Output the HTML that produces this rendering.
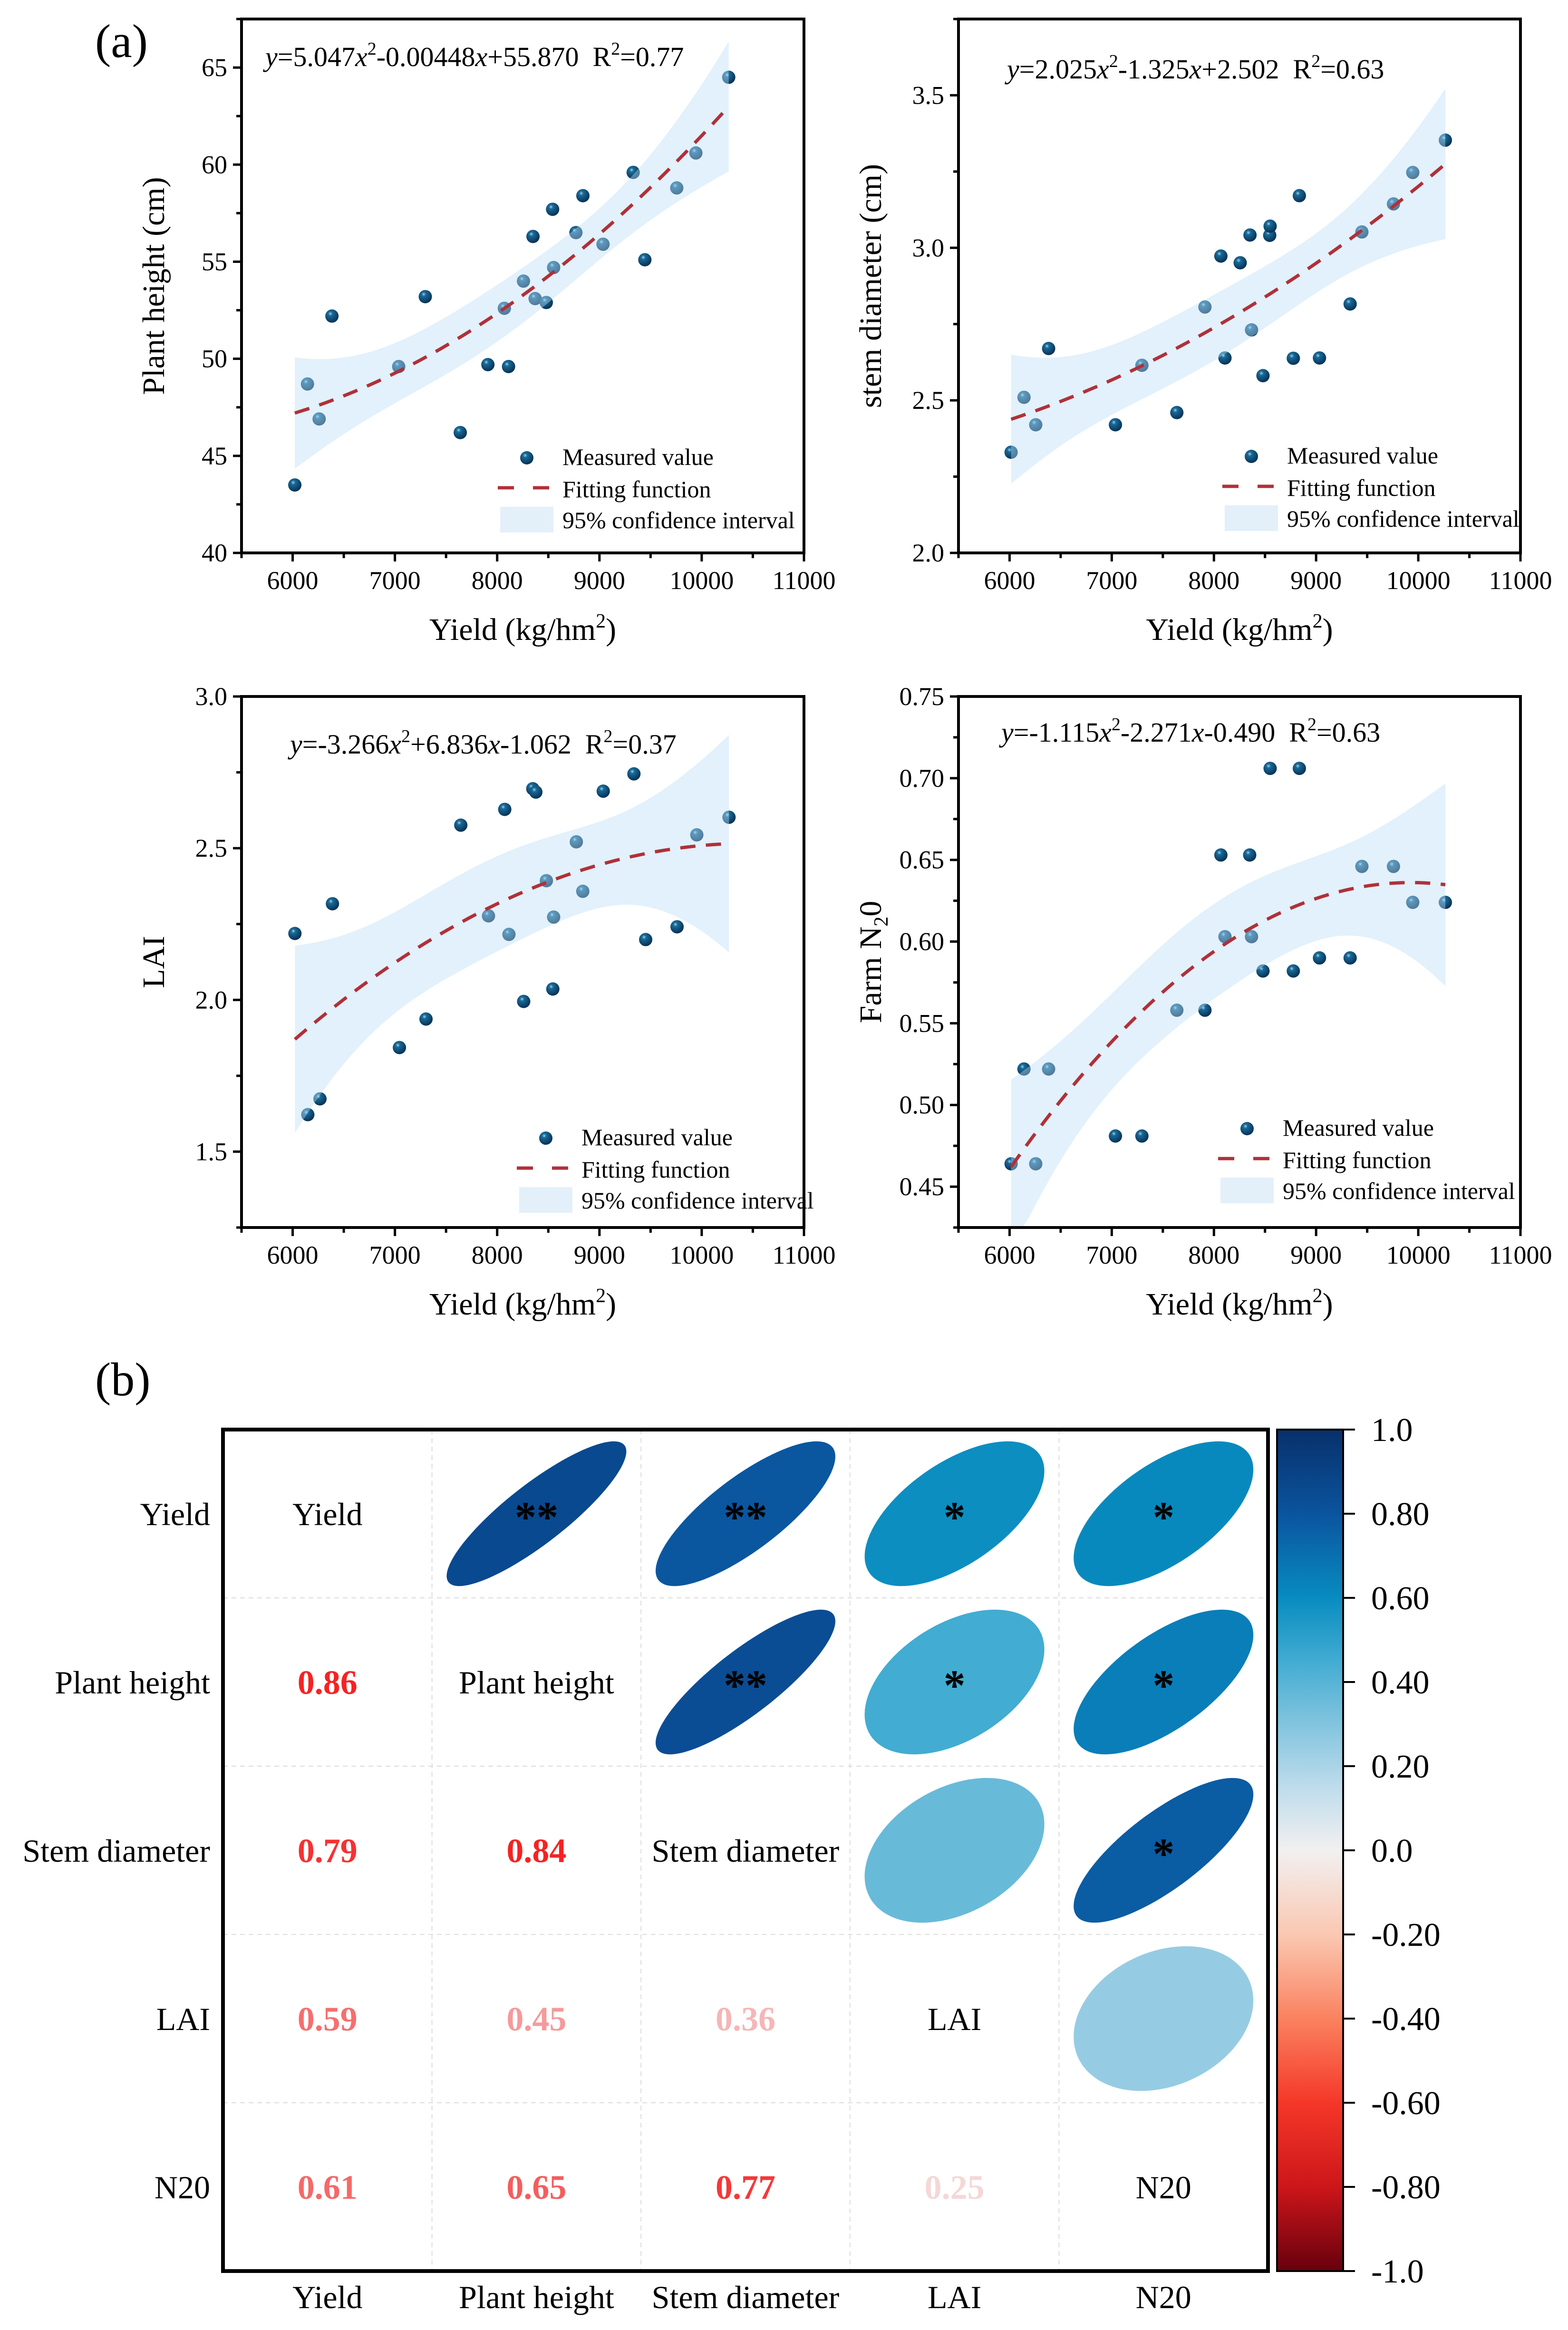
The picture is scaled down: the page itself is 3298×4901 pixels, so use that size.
<!DOCTYPE html>
<html><head><meta charset="utf-8"><style>
html,body{margin:0;padding:0;background:#fff;}
svg{display:block;font-family:"Liberation Serif",serif;}
</style></head><body>
<svg id="root" xmlns="http://www.w3.org/2000/svg" width="3298" height="4901" viewBox="0 0 3298 4901">
<defs>
<radialGradient id="dotGrad" cx="0.38" cy="0.32" r="0.7">
<stop offset="0" stop-color="#9fd4ea"/><stop offset="0.22" stop-color="#1a6a98"/><stop offset="1" stop-color="#062f52"/>
</radialGradient>
<linearGradient id="cbGrad" x1="0" y1="0" x2="0" y2="1"></linearGradient>
</defs>
<text x="200" y="120" font-size="100">(a)</text>
<text x="200" y="2935" font-size="100">(b)</text>
<g id="plots"></g>
<g id="corr"></g>
</svg>
<script>
// ---------- Panel (a) data ----------
const yieldPH = [6021,6145,6259,6384,7037,7297,7639,7909,8070,8111,8257,8350,8371,8480,8542,8552,8770,8838,9035,9330,9444,9756,9943,10264];
const plantHeight = [43.5,48.7,46.9,52.2,49.6,53.2,46.2,49.7,52.6,49.6,54.0,56.3,53.1,52.9,57.7,54.7,56.5,58.4,55.9,59.6,55.1,58.8,60.6,64.5];
const yieldSD = [6015,6141,6256,6382,7036,7295,7637,7912,8068,8108,8257,8353,8368,8480,8546,8550,8777,8836,9033,9333,9448,9757,9946,10265];
const stemDiameter = [2.33,2.51,2.42,2.67,2.42,2.615,2.46,2.806,2.973,2.639,2.951,3.042,2.731,2.581,3.041,3.071,2.638,3.171,2.639,2.816,3.052,3.144,3.247,3.353];
const yieldLAI = [6022,6148,6267,6389,7044,7304,7644,7915,8074,8115,8259,8348,8378,8481,8544,8552,8774,8837,9037,9337,9452,9759,9952,10267];
const laiValues = [2.219,1.622,1.674,2.317,1.843,1.937,2.576,2.277,2.628,2.216,1.995,2.696,2.685,2.393,2.036,2.273,2.521,2.358,2.688,2.745,2.199,2.241,2.544,2.602];
const yieldN2O = [6015,6141,6256,6382,7036,7295,7637,7912,8068,8108,8350,8368,8480,8550,8777,8836,9033,9333,9448,9757,9946,10265];
const n2oValues = [0.464,0.522,0.464,0.522,0.481,0.481,0.558,0.558,0.653,0.603,0.653,0.603,0.582,0.706,0.582,0.706,0.590,0.590,0.646,0.646,0.624,0.624];
const xTicks = [6000,7000,8000,9000,10000,11000];
const ticksPH = [40,45,50,55,60,65];
const ticksSD = [2.0,2.5,3.0,3.5];
const ticksLAI = [1.5,2.0,2.5,3.0];
const ticksN2O = [0.45,0.50,0.55,0.60,0.65,0.70,0.75];

// ---------- Panel (b) data ----------
const varNames = ["Yield","Plant height","Stem diameter","LAI","N20"];
const corrPairs = [[0,1],[0,2],[0,3],[0,4],[1,2],[1,3],[1,4],[2,3],[2,4],[3,4]];
const corrValues = [0.86,0.79,0.59,0.61,0.84,0.45,0.65,0.36,0.77,0.25];
const corrSig = ["**","**","*","*","**","*","*","","*",""];
const cbTicks = ["1.0","0.80","0.60","0.40","0.20","0.0","-0.20","-0.40","-0.60","-0.80","-1.0"];

const NS="http://www.w3.org/2000/svg";
function mk(parent,tag,attrs){const e=document.createElementNS(NS,tag);for(const k in attrs)e.setAttribute(k,attrs[k]);parent.appendChild(e);return e;}

function quadFit(xs,ys){
  const n=xs.length;const u=xs.map(x=>(x-8000)/1000);
  const M=[[0,0,0],[0,0,0],[0,0,0]],b=[0,0,0];
  for(let i=0;i<n;i++){const v=[1,u[i],u[i]*u[i]];for(let a=0;a<3;a++){b[a]+=v[a]*ys[i];for(let c=0;c<3;c++)M[a][c]+=v[a]*v[c];}}
  const inv=inv3(M);const beta=[0,0,0];
  for(let a=0;a<3;a++)for(let c=0;c<3;c++)beta[a]+=inv[a][c]*b[c];
  let sse=0;for(let i=0;i<n;i++){const p=beta[0]+beta[1]*u[i]+beta[2]*u[i]*u[i];sse+=(ys[i]-p)**2;}
  const s=Math.sqrt(sse/(n-3));
  return {pred:x=>{const uu=(x-8000)/1000;return beta[0]+beta[1]*uu+beta[2]*uu*uu;},
    se:x=>{const uu=(x-8000)/1000;const v=[1,uu,uu*uu];let q=0;for(let a=0;a<3;a++)for(let c=0;c<3;c++)q+=v[a]*inv[a][c]*v[c];return s*Math.sqrt(q);}};
}
function inv3(m){
  const [a,b,c]=m[0],[d,e,f]=m[1],[g,h,i]=m[2];
  const A=e*i-f*h,B=-(d*i-f*g),C=d*h-e*g;const det=a*A+b*B+c*C;
  return [[A/det,-(b*i-c*h)/det,(b*f-c*e)/det],[B/det,(a*i-c*g)/det,-(a*f-c*d)/det],[C/det,-(a*h-b*g)/det,(a*e-b*d)/det]];
}

const SP="\u00a0\u00a0";
const panels=[
 {name:"plant-height",xs:yieldPH,ys:plantHeight,L:508,R:1691,T:40,B:1163,ymin:40,ymax:67.5,ticks:ticksPH,minor:2.5,dec:0,
  eq:["y","=5.047","x","2","-0.00448","x","+55.870"+SP+"R","2","=0.77"],eqX:558,eqY:139,title:"Plant height (cm)",leg:508,legY:0},
 {name:"stem-diameter",xs:yieldSD,ys:stemDiameter,L:2016,R:3198,T:40,B:1163,ymin:2.0,ymax:3.75,ticks:ticksSD,minor:0.25,dec:1,
  eq:["y","=2.025","x","2","-1.325","x","+2.502"+SP+"R","2","=0.63"],eqX:2118,eqY:165,title:"stem diameter (cm)",leg:491,legY:-3},
 {name:"lai",xs:yieldLAI,ys:laiValues,L:508,R:1691,T:1465,B:2582,ymin:1.25,ymax:3.0,ticks:ticksLAI,minor:0.25,dec:1,
  eq:["y","=-3.266","x","2","+6.836","x","-1.062"+SP+"R","2","=0.37"],eqX:610,eqY:1585,title:"LAI",leg:468,legY:12},
 {name:"n2o",xs:yieldN2O,ys:n2oValues,L:2016,R:3198,T:1465,B:2582,ymin:0.425,ymax:0.75,ticks:ticksN2O,minor:0.025,dec:2,
  eq:["y","=-1.115","x","2","-2.271","x","-0.490"+SP+"R","2","=0.63"],eqX:2106,eqY:1560,title:"Farm N",leg:500,legY:-8}
];

const plots=document.getElementById('plots');
panels.forEach(p=>{
  const g=mk(plots,'g',{});
  
  
  const sx=x=>p.L+(x-5500)/5500*(p.R-p.L);
  const sy=y=>p.B-(y-p.ymin)/(p.ymax-p.ymin)*(p.B-p.T);
  const fit=quadFit(p.xs,p.ys);
  const x0=Math.min(...p.xs),x1=Math.max(...p.xs);
  p.xs.forEach((x,i)=>{
    const c=mk(g,'circle',{cx:sx(x),cy:sy(p.ys[i]),r:14,fill:'url(#dotGrad)'});
    
    
  });
  const up=[],lo=[];
  for(let k=0;k<=80;k++){const x=x0+(x1-x0)*k/80;const yv=fit.pred(x),se=fit.se(x)*2.08;
    up.push(sx(x).toFixed(1)+','+Math.max(p.T,sy(yv+se)).toFixed(1));lo.push(sx(x).toFixed(1)+','+Math.min(p.B,sy(yv-se)).toFixed(1));}
  const band=mk(g,'polygon',{points:up.concat(lo.reverse()).join(' '),fill:'rgb(185,222,245)','fill-opacity':0.42});
  
  
  const pts=[];for(let k=0;k<=80;k++){const x=x0+(x1-x0)*k/80;pts.push(sx(x).toFixed(1)+','+sy(fit.pred(x)).toFixed(1));}
  const fl=mk(g,'polyline',{points:pts.join(' '),fill:'none',stroke:'#b0303a','stroke-width':7,'stroke-dasharray':'32,22'});
  
  
  const fr=mk(g,'rect',{x:p.L,y:p.T,width:p.R-p.L,height:p.B-p.T,fill:'none',stroke:'#000','stroke-width':6});
  
  
  for(let v=5500;v<=11000;v+=500){const X=sx(v);const major=v%1000===0;mk(g,'line',{x1:X,x2:X,y1:p.B,y2:p.B+(major?18:11),stroke:'#000','stroke-width':5});}
  xTicks.forEach(v=>{const t=mk(g,'text',{x:sx(v),y:p.B+76,'font-size':54,'text-anchor':'middle'});t.textContent=v;
    
    });
  for(let v=p.ymin;v<=p.ymax+1e-9;v+=p.minor){const Y=sy(v);const major=p.ticks.some(t=>Math.abs(t-v)<1e-6);mk(g,'line',{x1:p.L,x2:p.L-(major?18:11),y1:Y,y2:Y,stroke:'#000','stroke-width':5});}
  p.ticks.forEach(v=>{const t=mk(g,'text',{x:p.L-30,y:sy(v)+18,'font-size':54,'text-anchor':'end'});t.textContent=v.toFixed(p.dec);
    
    });
  const eq=mk(g,'text',{x:p.eqX,y:p.eqY,'font-size':58});
  
  
  p.eq.forEach((s,i)=>{let at={};if(s==='y'||s==='x')at={'font-style':'italic'};
    if(i===3||i===7)at={'font-size':38,dy:-24};if(i===4||i===8)at={dy:24};
    const ts=mk(eq,'tspan',at);ts.textContent=s;});
  const xt=mk(g,'text',{x:(p.L+p.R)/2,y:p.B+183,'font-size':66,'text-anchor':'middle'});
  
  
  xt.appendChild(document.createTextNode('Yield (kg/hm'));
  mk(xt,'tspan',{'font-size':42,dy:-26}).textContent='2';
  mk(xt,'tspan',{dy:26}).textContent=')';
  const cy=(p.T+p.B)/2;
  const yt=mk(g,'text',{x:p.L-163,y:cy,'font-size':66,'text-anchor':'middle',transform:`rotate(-90 ${p.L-163} ${cy})`});
  
  
  yt.appendChild(document.createTextNode(p.title));
  if(p.name==='n2o'){mk(yt,'tspan',{'font-size':42,dy:14}).textContent='2';mk(yt,'tspan',{dy:-14}).textContent='0';}
  const lg=mk(g,'g',{});
  
  
  const tx=p.R-p.leg,by=p.B+p.legY;
  mk(lg,'circle',{cx:tx-75,cy:by-200,r:14,fill:'url(#dotGrad)'});
  mk(lg,'line',{x1:tx-136,x2:tx-25,y1:by-137,y2:by-137,stroke:'#b0303a','stroke-width':7,'stroke-dasharray':'34,40'});
  mk(lg,'rect',{x:tx-131,y:by-97,width:112,height:54,fill:'#e3f0fa'});
  [['Measured value',-185],['Fitting function',-117],['95% confidence interval',-52]].forEach(([s,o])=>{
    const t=mk(lg,'text',{x:tx,y:by+o,'font-size':50});t.textContent=s;
    
    });
});

// ---------- Panel (b) ----------
const corr=document.getElementById('corr');
const HL=469,HR=2667,HT=3007,HB=4777,CW=(HR-HL)/5,CH=(HB-HT)/5;
const cmStops=[[1.0,[8,48,107]],[0.8,[10,84,158]],[0.6,[8,140,192]],[0.45,[66,172,210]],[0.3,[130,196,222]],[0.15,[190,220,236]],[0,[242,240,240]],[-0.2,[250,200,178]],[-0.4,[250,130,95]],[-0.6,[245,55,40]],[-0.8,[205,22,26]],[-1.0,[103,0,13]]];
function cmap(r){for(let i=0;i<cmStops.length-1;i++){const [a,ca]=cmStops[i],[b,cb]=cmStops[i+1];if(r<=a&&r>=b){const t=(a-r)/(a-b);return 'rgb('+ca.map((v,k)=>Math.round(v+(cb[k]-v)*t)).join(',')+')';}}return 'rgb(103,0,13)';}
for(let i=1;i<5;i++){
  mk(corr,'line',{x1:HL+CW*i,x2:HL+CW*i,y1:HT,y2:HB,stroke:'#ddd','stroke-width':2,'stroke-dasharray':'10,8'});
  mk(corr,'line',{x1:HL,x2:HR,y1:HT+CH*i,y2:HT+CH*i,stroke:'#ddd','stroke-width':2,'stroke-dasharray':'10,8'});
}
corrPairs.forEach(([r,c],k)=>{
  const v=corrValues[k];const cx=HL+CW*(c+0.5),cy=HT+CH*(r+0.5);
  const d=Math.acos(v);const pts=[];
  for(let j=0;j<100;j++){const t=j/100*2*Math.PI;pts.push((cx+0.43*CW*Math.cos(t+d/2)).toFixed(1)+','+(cy-0.43*CH*Math.cos(t-d/2)).toFixed(1));}
  const el=mk(corr,'polygon',{points:pts.join(' '),fill:cmap(v)});
  
  
  if(corrSig[k]){const s=mk(corr,'text',{x:cx,y:cy+38,'font-size':92,'text-anchor':'middle','font-weight':'bold'});s.textContent=corrSig[k];
    
    }
  const cx2=HL+CW*(r+0.5),cy2=HT+CH*(c+0.5);
  const tt=Math.max(0.15,Math.min(1,(v-0.12)/0.72));
  const col='rgb(245,'+Math.round(255-(255-35)*tt)+','+Math.round(255-(255-35)*tt)+')';
  const nt=mk(corr,'text',{x:cx2,y:cy2+25,'font-size':72,'text-anchor':'middle','font-weight':'bold',fill:col});
  nt.textContent=v.toFixed(2);
  
  
});
varNames.forEach((n,i)=>{
  const cy=HT+CH*(i+0.5),cx=HL+CW*(i+0.5);
  const a=mk(corr,'text',{x:442,y:cy+24,'font-size':68,'text-anchor':'end'});a.textContent=n;
  
  
  const b=mk(corr,'text',{x:cx,y:cy+24,'font-size':68,'text-anchor':'middle'});b.textContent=n;
  
  
  const c=mk(corr,'text',{x:cx,y:4855,'font-size':68,'text-anchor':'middle'});c.textContent=n;
  
  
});
const hf=mk(corr,'rect',{x:HL,y:HT,width:HR-HL,height:HB-HT,fill:'none',stroke:'#000','stroke-width':8});


const grad=document.getElementById('cbGrad');
for(let j=0;j<=40;j++){const r=1-j/20;mk(grad,'stop',{offset:(j/40),'stop-color':cmap(r)});}
const cb=mk(corr,'rect',{x:2686,y:HT,width:139,height:HB-HT,fill:'url(#cbGrad)',stroke:'#000','stroke-width':4});


cbTicks.forEach((s,i)=>{const Y=HT+(HB-HT)*i/10;
  mk(corr,'line',{x1:2825,x2:2850,y1:Y,y2:Y,stroke:'#000','stroke-width':4});
  const t=mk(corr,'text',{x:2884,y:Y+24,'font-size':70});t.textContent=s;
  
  });
</script>
</body></html>
